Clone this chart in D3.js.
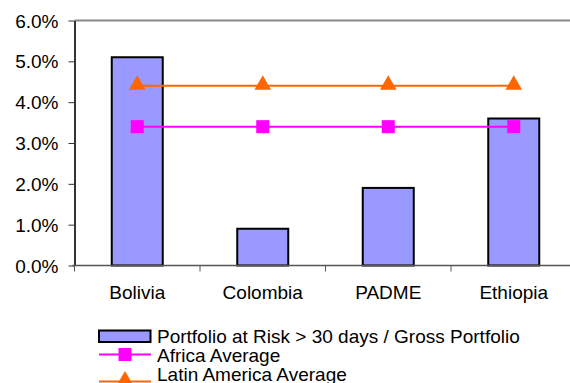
<!DOCTYPE html>
<html>
<head>
<meta charset="utf-8">
<script src="https://cdn.jsdelivr.net/npm/d3@7"></script>
<style>
  html, body { margin: 0; padding: 0; background: #fff; }
  svg { display: block; font-family: Arial, "Liberation Sans", sans-serif; }
</style>
</head>
<body>
<svg id="chart" width="570" height="383"></svg>
<script>
// Portfolio at risk by institution, with regional averages
const categories = ["Bolivia", "Colombia", "PADME", "Ethiopia"];
const parValues = [5.1, 0.9, 1.9, 3.6];
const africaAverage = [3.4, 3.4, 3.4, 3.4];
const latinAmericaAverage = [4.4, 4.4, 4.4, 4.4];
const yTicks = [0, 1, 2, 3, 4, 5, 6];
const legendLabels = [
  "Portfolio at Risk > 30 days / Gross Portfolio",
  "Africa Average",
  "Latin America Average"
];

const svg = d3.select("#chart");
const plot = { left: 74.5, right: 576.5, top: 20.5, bottom: 265.5 };
const fontSize = 19;

const x = d3.scaleBand().domain(categories).range([plot.left, plot.right]);
const y = d3.scaleLinear().domain([0, 6]).range([plot.bottom, plot.top]);
const barWidth = 51;

// plot area frame (top edge)
svg.append("line")
  .attr("x1", plot.left).attr("x2", plot.right)
  .attr("y1", plot.top).attr("y2", plot.top)
  .attr("stroke", "#888").attr("stroke-width", 2);

// bars
svg.selectAll("rect.bar").data(parValues).join("rect")
  .attr("class", "bar")
  .attr("x", (d, i) => x(categories[i]) + x.bandwidth() / 2 - barWidth / 2)
  .attr("y", d => y(d))
  .attr("width", barWidth)
  .attr("height", d => y(0) - y(d))
  .attr("fill", "#9999FF")
  .attr("stroke", "#000")
  .attr("stroke-width", 2);

// y axis
const yAxis = d3.axisLeft(y).tickValues(yTicks)
  .tickFormat(d => d.toFixed(1) + "%").tickSize(6).tickSizeOuter(0);
const gy = svg.append("g").attr("transform", `translate(${plot.left},0)`).call(yAxis);
gy.select(".domain").attr("stroke", "#333").attr("stroke-width", 2);
gy.selectAll(".tick line").attr("stroke", "#333").attr("stroke-width", 1);
gy.selectAll(".tick text").attr("font-size", fontSize).attr("fill", "#000")
  .attr("x", -16).attr("dy", "0.35em").style("font-family", "Arial, 'Liberation Sans', sans-serif");

// x axis with ticks between categories
const xBoundaries = categories.map(c => x(c)).concat([plot.right]);
const gx = svg.append("g");
gx.append("line")
  .attr("x1", plot.left - 2).attr("x2", plot.right)
  .attr("y1", plot.bottom).attr("y2", plot.bottom)
  .attr("stroke", "#555").attr("stroke-width", 1.5);
gx.selectAll("line.tick").data(xBoundaries).join("line")
  .attr("class", "tick")
  .attr("x1", d => d).attr("x2", d => d)
  .attr("y1", plot.bottom).attr("y2", plot.bottom + 6)
  .attr("stroke", "#555").attr("stroke-width", 1);
gx.selectAll("text").data(categories).join("text")
  .attr("x", d => x(d) + x.bandwidth() / 2)
  .attr("y", 299)
  .attr("text-anchor", "middle")
  .attr("font-size", fontSize)
  .text(d => d);

// average lines
const cx = (d, i) => x(categories[i]) + x.bandwidth() / 2;
const lineGen = d3.line().x(cx).y(d => y(d));

svg.append("path").datum(latinAmericaAverage)
  .attr("d", lineGen).attr("fill", "none")
  .attr("stroke", "#FF6600").attr("stroke-width", 2);
svg.append("path").datum(africaAverage)
  .attr("d", lineGen).attr("fill", "none")
  .attr("stroke", "#FF00FF").attr("stroke-width", 2);

const tri = d3.symbol().type(d3.symbolTriangle).size(120);
svg.selectAll("path.tri").data(latinAmericaAverage).join("path")
  .attr("class", "tri")
  .attr("transform", (d, i) => `translate(${cx(d, i)},${y(d) - 1})`)
  .attr("d", tri).attr("fill", "#FF6600");
svg.selectAll("rect.sq").data(africaAverage).join("rect")
  .attr("class", "sq")
  .attr("x", (d, i) => cx(d, i) - 6.5).attr("y", d => y(d) - 6.5)
  .attr("width", 13).attr("height", 13)
  .attr("fill", "#FF00FF");

// legend
const lg = svg.append("g");
const legendX = 99, textX = 157;
const rows = [336, 354.5, 373];
lg.append("rect")
  .attr("x", legendX).attr("y", rows[0] - 5.5)
  .attr("width", 51.5).attr("height", 11.5)
  .attr("fill", "#9999FF").attr("stroke", "#000").attr("stroke-width", 2);
lg.append("line").attr("x1", legendX).attr("x2", legendX + 52)
  .attr("y1", rows[1]).attr("y2", rows[1])
  .attr("stroke", "#FF00FF").attr("stroke-width", 2);
lg.append("rect").attr("x", legendX + 26 - 6.5).attr("y", rows[1] - 6.5)
  .attr("width", 13).attr("height", 13).attr("fill", "#FF00FF");
lg.append("line").attr("x1", legendX).attr("x2", legendX + 52)
  .attr("y1", rows[2] + 8.5).attr("y2", rows[2] + 8.5)
  .attr("stroke", "#FF6600").attr("stroke-width", 2);
lg.append("path")
  .attr("transform", `translate(${legendX + 26},${rows[2] + 7.5})`)
  .attr("d", tri).attr("fill", "#FF6600");
lg.selectAll("text").data(legendLabels).join("text")
  .attr("x", textX)
  .attr("y", (d, i) => [342.7, 361.7, 380.7][i])
  .attr("font-size", fontSize)
  .text(d => d);
</script>
</body>
</html>
